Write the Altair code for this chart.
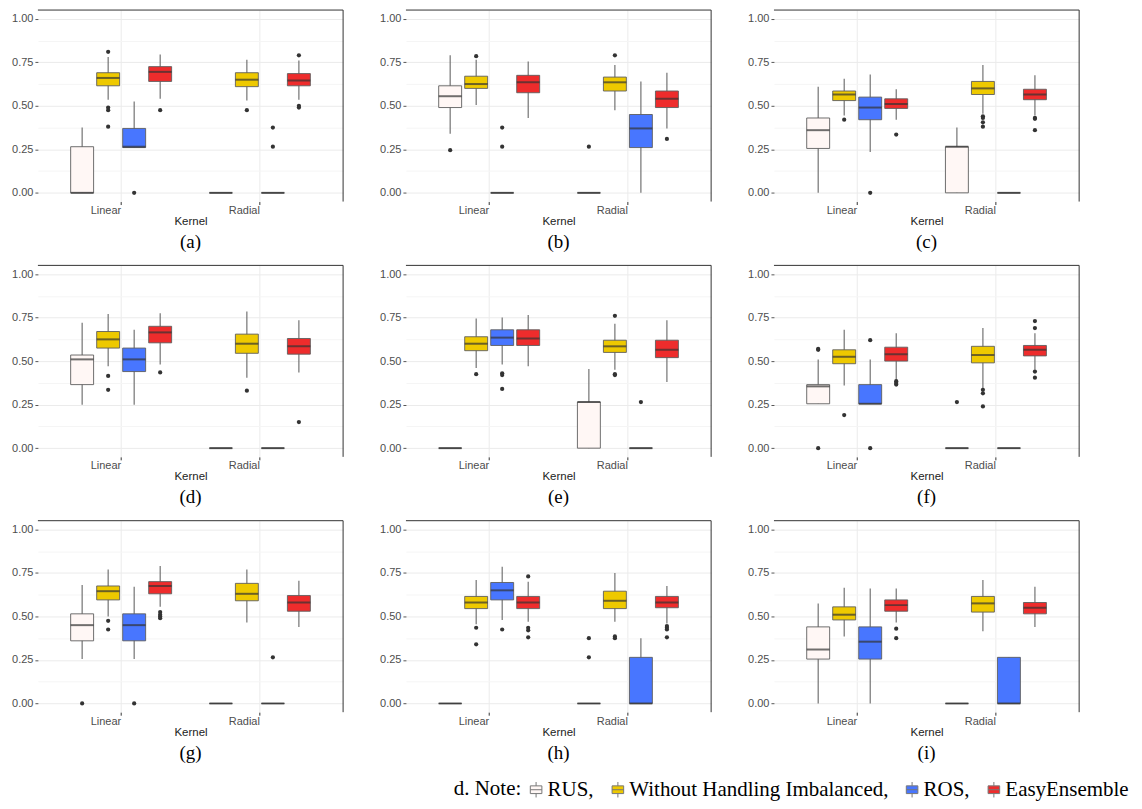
import altair as alt
import pandas as pd

PANELS = ["a", "b", "c", "d", "e", "f", "g", "h", "i"]
KERNELS = ["Linear", "Radial"]
METHODS = ["RUS", "Without Handling Imbalanced", "ROS", "EasyEnsemble"]
COLORS = ["#FFF7F5", "#EEC900", "#4876FF", "#EE2C2C"]

# order of the 8 boxes in each panel:
# Linear: RUS, Without, ROS, EasyEnsemble | Radial: RUS, Without, ROS, EasyEnsemble
LOWER = [
    [0, 0.535, 0.26, 0.54, 0, 0.53, 0, 0.535],
    [0.34, 0.505, 0, 0.43, 0, 0.475, 0, 0.37],
    [0, 0.445, 0.235, 0.42, 0, 0.455, 0, 0.445],
    [0.25, 0.47, 0.25, 0.48, 0, 0.405, 0, 0.435],
    [0, 0.46, 0.48, 0.47, 0, 0.45, 0, 0.38],
    [0.255, 0.36, 0.255, 0.39, 0, 0.34, 0, 0.45],
    [0.255, 0.50, 0.255, 0.555, 0, 0.465, 0, 0.44],
    [0, 0.455, 0.48, 0.47, 0, 0.47, 0, 0.46],
    [0, 0.385, 0, 0.465, 0, 0.415, 0, 0.44],
]
Q1 = [
    [0, 0.615, 0.26, 0.64, 0, 0.61, 0, 0.615],
    [0.49, 0.60, 0, 0.575, 0, 0.585, 0.26, 0.49],
    [0.255, 0.53, 0.42, 0.485, 0, 0.565, 0, 0.535],
    [0.365, 0.575, 0.44, 0.605, 0, 0.545, 0, 0.54],
    [0, 0.56, 0.59, 0.59, 0, 0.55, 0, 0.52],
    [0.255, 0.485, 0.255, 0.50, 0, 0.49, 0, 0.53],
    [0.36, 0.595, 0.36, 0.63, 0, 0.59, 0, 0.53],
    [0, 0.545, 0.595, 0.545, 0, 0.545, 0, 0.55],
    [0.255, 0.48, 0.255, 0.53, 0, 0.525, 0, 0.515],
]
MEDIAN = [
    [0, 0.66, 0.265, 0.695, 0, 0.65, 0, 0.645],
    [0.555, 0.625, 0, 0.635, 0, 0.635, 0.37, 0.54],
    [0.36, 0.565, 0.49, 0.51, 0.265, 0.60, 0, 0.565],
    [0.51, 0.625, 0.51, 0.665, 0, 0.60, 0, 0.585],
    [0, 0.60, 0.635, 0.63, 0.265, 0.585, 0, 0.565],
    [0.355, 0.525, 0.255, 0.54, 0, 0.535, 0, 0.565],
    [0.45, 0.645, 0.45, 0.675, 0, 0.63, 0, 0.58],
    [0, 0.58, 0.65, 0.58, 0, 0.59, 0, 0.58],
    [0.31, 0.51, 0.355, 0.565, 0, 0.575, 0, 0.55],
]
Q3 = [
    [0.265, 0.69, 0.37, 0.725, 0, 0.69, 0, 0.685],
    [0.615, 0.67, 0, 0.675, 0, 0.665, 0.45, 0.585],
    [0.43, 0.585, 0.55, 0.54, 0.265, 0.64, 0, 0.595],
    [0.535, 0.67, 0.575, 0.70, 0, 0.655, 0, 0.63],
    [0, 0.64, 0.68, 0.68, 0.265, 0.62, 0, 0.62],
    [0.365, 0.565, 0.365, 0.58, 0, 0.585, 0, 0.59],
    [0.515, 0.675, 0.515, 0.70, 0, 0.69, 0, 0.62],
    [0, 0.615, 0.695, 0.615, 0, 0.645, 0.265, 0.615],
    [0.44, 0.555, 0.44, 0.595, 0, 0.615, 0.265, 0.58],
]
UPPER = [
    [0.375, 0.78, 0.525, 0.795, 0, 0.765, 0, 0.76],
    [0.79, 0.765, 0, 0.755, 0, 0.735, 0.64, 0.69],
    [0.61, 0.655, 0.68, 0.595, 0.375, 0.735, 0, 0.675],
    [0.72, 0.77, 0.68, 0.775, 0, 0.785, 0, 0.735],
    [0, 0.745, 0.75, 0.765, 0.455, 0.715, 0, 0.735],
    [0.51, 0.68, 0.51, 0.66, 0, 0.69, 0, 0.66],
    [0.68, 0.77, 0.67, 0.79, 0, 0.77, 0, 0.705],
    [0, 0.71, 0.785, 0.70, 0, 0.75, 0.375, 0.675],
    [0.575, 0.665, 0.66, 0.66, 0, 0.71, 0.265, 0.67],
]
OUTLIERS = [
    [[], [0.81, 0.49, 0.475, 0.38], [0.0], [0.475], [], [0.475], [0.375, 0.265], [0.79, 0.50, 0.49]],
    [[0.245], [0.785], [0.375, 0.265], [], [0.265], [0.79], [], [0.31]],
    [[], [0.42], [0.0], [0.335], [], [0.44, 0.43, 0.405, 0.38], [], [0.43, 0.425, 0.36]],
    [[], [0.415, 0.335], [], [0.435], [], [0.33], [], [0.15]],
    [[], [0.425], [0.43, 0.42, 0.34], [], [], [0.76, 0.425, 0.42], [0.265], []],
    [[0.57, 0.565, 0.0], [0.19], [0.62, 0.0], [0.385, 0.375, 0.365], [0.265], [0.335, 0.315, 0.24], [], [0.73, 0.69, 0.44, 0.405]],
    [[0.0], [0.475, 0.425], [0.0], [0.525, 0.51, 0.50, 0.49], [], [], [0.265], []],
    [[], [0.435, 0.34], [0.425], [0.73, 0.435, 0.42, 0.38], [0.375, 0.265], [0.385, 0.375], [], [0.445, 0.435, 0.425, 0.38]],
    [[], [], [], [0.43, 0.375], [], [], [], []],
]

box_rows, out_rows = [], []
for pi, p in enumerate(PANELS):
    for ki, k in enumerate(KERNELS):
        for mi, m in enumerate(METHODS):
            j = ki * 4 + mi
            box_rows.append(dict(panel=p, kernel=k, method=m, lower=LOWER[pi][j], q1=Q1[pi][j],
                                 median=MEDIAN[pi][j], q3=Q3[pi][j], upper=UPPER[pi][j]))
            for v in OUTLIERS[pi][j]:
                out_rows.append(dict(panel=p, kernel=k, method=m, value=v))
box_df = pd.DataFrame(box_rows)
out_df = pd.DataFrame(out_rows)
one_df = pd.DataFrame({"z": [0]})

SANS = "Liberation Sans"
SERIF = "Liberation Serif"

y_scale = alt.Scale(domain=[-0.05, 1.05], nice=False, zero=False)
x_scale = alt.Scale(domain=KERNELS, paddingInner=0.25, paddingOuter=0.225)
xo_scale = alt.Scale(domain=METHODS, paddingInner=0, paddingOuter=0)
fill_scale = alt.Scale(domain=METHODS, range=COLORS)

minor_test = "abs(datum.value * 4 - round(datum.value * 4)) > 0.01"
y_axis = alt.Axis(
    values=[0, 0.125, 0.25, 0.375, 0.5, 0.625, 0.75, 0.875, 1.0],
    labelExpr="abs(datum.value * 4 - round(datum.value * 4)) > 0.01 ? '' : format(datum.value, '.2f')",
    grid=True,
    gridColor={"condition": {"test": minor_test, "value": "#F5F5F5"}, "value": "#EBEBEB"},
    gridWidth=1,
    tickOpacity={"condition": {"test": minor_test, "value": 0}, "value": 1},
    tickColor="#555555", tickSize=3, domain=False,
    labelFont=SANS, labelFontSize=11, labelColor="#4D4D4D", labelPadding=2,
)
x_axis = alt.Axis(
    grid=True, gridColor="#EBEBEB", bandPosition=0.5, domain=False,
    tickColor="#333333", tickSize=3, labelAngle=0, labelAlign="right",
    labelFont=SANS, labelFontSize=11, labelColor="#4D4D4D", labelPadding=0,
    titleFont=SANS, titleFontSize=11.5, titleFontWeight="normal", titleColor="#222222",
    titlePadding=0,
)

LEGEND_PATH = "M0,-1V-0.5M-0.75,-0.5H0.75V0.5H-0.75ZM-0.75,0H0.75M0,0.5V1"
legend = alt.Legend(
    orient="none", legendX=417, legendY=771, direction="horizontal",
    title="d. Note:", titleOrient="left", titleFont=SERIF, titleFontSize=21,
    titleFontWeight="normal", titleColor="black", titlePadding=4,
    labelFont=SERIF, labelFontSize=21, labelColor="black", labelLimit=400,
    labelExpr="datum.label == 'EasyEnsemble' ? datum.label : datum.label + ','",
    symbolType=LEGEND_PATH, symbolSize=240, symbolStrokeColor="#777777",
    symbolStrokeWidth=1, columnPadding=13, labelOffset=1,
)


def panel(p):
    base = alt.Chart(box_df).transform_filter(alt.datum.panel == p)
    x = alt.X("kernel:N", scale=x_scale, axis=x_axis, title="Kernel")
    xo = alt.XOffset("method:N", scale=xo_scale)
    whisk = base.mark_rule(color="#666666", strokeWidth=1.1).encode(
        x=x, xOffset=xo,
        y=alt.Y("lower:Q", scale=y_scale, axis=y_axis, title=None),
        y2="upper:Q",
    )
    box = base.mark_bar(width=23, stroke="#5E5E5E", strokeWidth=0.9).encode(
        x=x, xOffset=xo,
        y=alt.Y("q1:Q", scale=y_scale, axis=y_axis, title=None),
        y2="q3:Q",
        fill=alt.Fill("method:N", scale=fill_scale, legend=legend),
    )
    med = base.mark_tick(color="#333333", thickness=2, size=23).encode(
        x=x, xOffset=xo,
        y=alt.Y("median:Q", scale=y_scale, axis=y_axis, title=None),
    )
    out = alt.Chart(out_df).transform_filter(alt.datum.panel == p).mark_circle(
        color="#333333", size=18, opacity=1
    ).encode(
        x=x, xOffset=xo,
        y=alt.Y("value:Q", scale=y_scale, axis=y_axis, title=None),
    )
    top = alt.Chart(one_df).mark_rule(color="#333333", strokeWidth=1).encode(
        x=alt.value(0), x2=alt.value("width"), y=alt.value(0)
    )
    right = alt.Chart(one_df).mark_rule(color="#333333", strokeWidth=1).encode(
        x=alt.value("width"), y=alt.value(0), y2=alt.value("height")
    )
    return alt.layer(whisk, box, med, out, top, right).properties(
        width=306, height=192,
        title=alt.TitleParams(
            text=f"({p})", orient="bottom", font=SERIF, fontSize=19,
            fontWeight="normal", color="black", offset=6,
        ),
    )


rows = [
    alt.hconcat(*[panel(p) for p in PANELS[r * 3:(r + 1) * 3]], spacing=35)
    for r in range(3)
]
chart = alt.vconcat(*rows, spacing=12).properties(
    padding={"left": 3, "top": 0, "right": 5, "bottom": 5}
).configure_view(stroke=None)

chart.save("out.html", embed_options={"renderer": "svg", "actions": False})
